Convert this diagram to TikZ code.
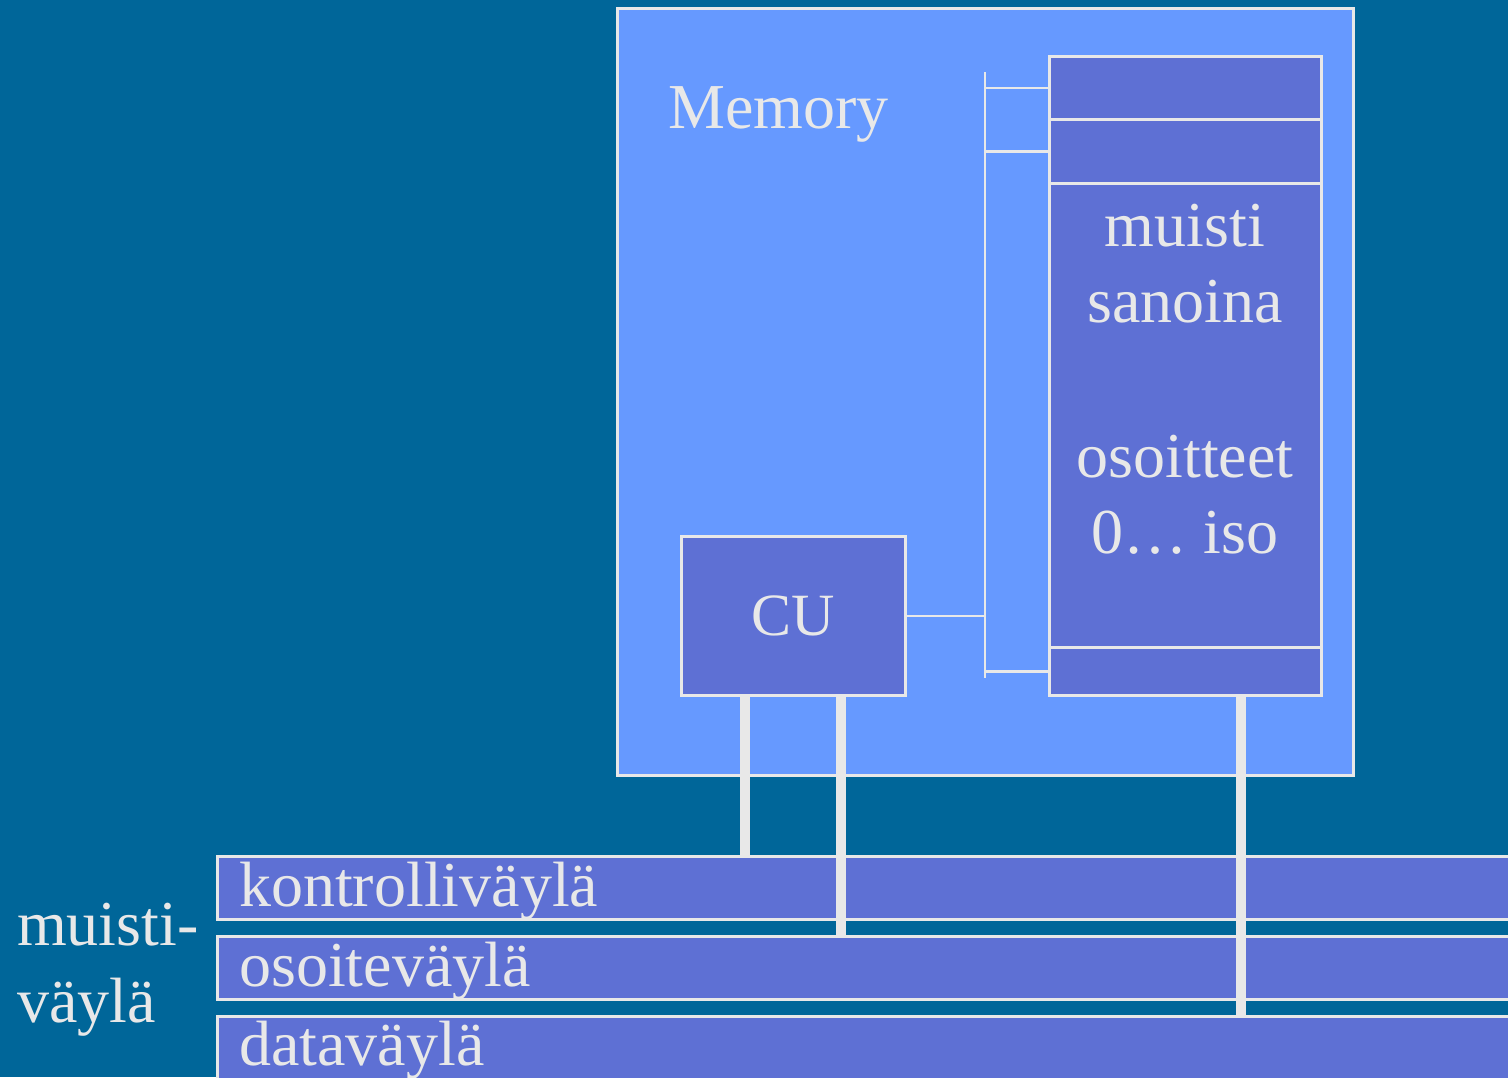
\documentclass[tikz,border=0pt]{standalone}
\usepackage{fontspec}
\setmainfont{Liberation Serif}
\definecolor{bgblue}{RGB}{0,102,153}
\definecolor{memfill}{RGB}{102,153,255}
\definecolor{cellfill}{RGB}{94,112,212}
\definecolor{linegray}{RGB}{232,232,232}
\begin{document}
\begin{tikzpicture}[x=1pt,y=-1pt,
  box/.style={draw=linegray, line width=2.5pt, fill=cellfill, inner sep=0pt, anchor=north west},
  membox/.style={draw=linegray, line width=2.5pt, fill=memfill, inner sep=0pt, anchor=north west},
  txt/.style={text=linegray, inner sep=0pt, font=\fontsize{64}{76}\selectfont},
  thin/.style={draw=linegray, line width=2.5pt},
  busline/.style={draw=linegray, line width=10pt}]
\fill[bgblue] (0,0) rectangle (1508,1077);
\useasboundingbox (0,0) rectangle (1508,1077);
% memory module
\node[membox, minimum width=736pt, minimum height=767pt] (mem) at (616,7) {};
\node[txt, anchor=base west] (memlbl) at (668,128) {Memory};
% memory array cells
\node[box, minimum width=272pt, minimum height=63pt] (c1) at (1048,55) {};
\node[box, minimum width=272pt, minimum height=64pt] (c2) at (1048,118) {};
\node[box, minimum width=272pt, minimum height=464pt] (c3) at (1048,182) {};
\node[box, minimum width=272pt, minimum height=48pt] (c4) at (1048,646) {};
\node[txt, align=center, anchor=base] (t1) at (1185,322) {muisti\\sanoina};
\node[txt, align=center, anchor=base] (t2) at (1185,553) {osoitteet\\0… iso};
% CU
\node[box, minimum width=224pt, minimum height=159pt] (cu) at (680,535) {};
\node[txt, font=\fontsize{60}{70}\selectfont] (culbl) at (cu.center) {CU};
% internal select line
\coordinate (vtop) at (985,72);
\coordinate (vbot) at (985,678);
\draw[thin] (vtop) -- (vbot);
\draw[thin] (c1.west) -- (vtop |- c1.west);
\draw[thin] (c2.west) -- (vtop |- c2.west);
\draw[thin] (c4.west) -- (vtop |- c4.west);
\draw[thin] (cu.east) -- (vtop |- cu.east);
% buses
\node[box, minimum width=1310pt, minimum height=63pt] (kbus) at (216,855) {};
\node[box, minimum width=1310pt, minimum height=63pt] (obus) at (216,935) {};
\node[box, minimum width=1310pt, minimum height=80pt] (dbus) at (216,1015) {};
\node[txt, anchor=base west] (kl) at (239,906) {kontrolliväylä};
\node[txt, anchor=base west] (ol) at (239,986) {osoiteväylä};
\node[txt, anchor=base west] (dl) at (239,1065) {dataväylä};
\node[txt, anchor=base west] (ml) at (17,945) {muisti-};
\node[txt, anchor=base west] (vl) at (17,1022) {väylä};
% bus connections
\coordinate (p1) at (745,695);
\coordinate (p2) at (841,695);
\coordinate (p3) at (1241,695);
\draw[busline] (p1) -- (p1 |- kbus.north);
\draw[busline] (p2) -- (p2 |- obus.north);
\draw[busline] (p3) -- (p3 |- dbus.north);
\end{tikzpicture}
\end{document}
